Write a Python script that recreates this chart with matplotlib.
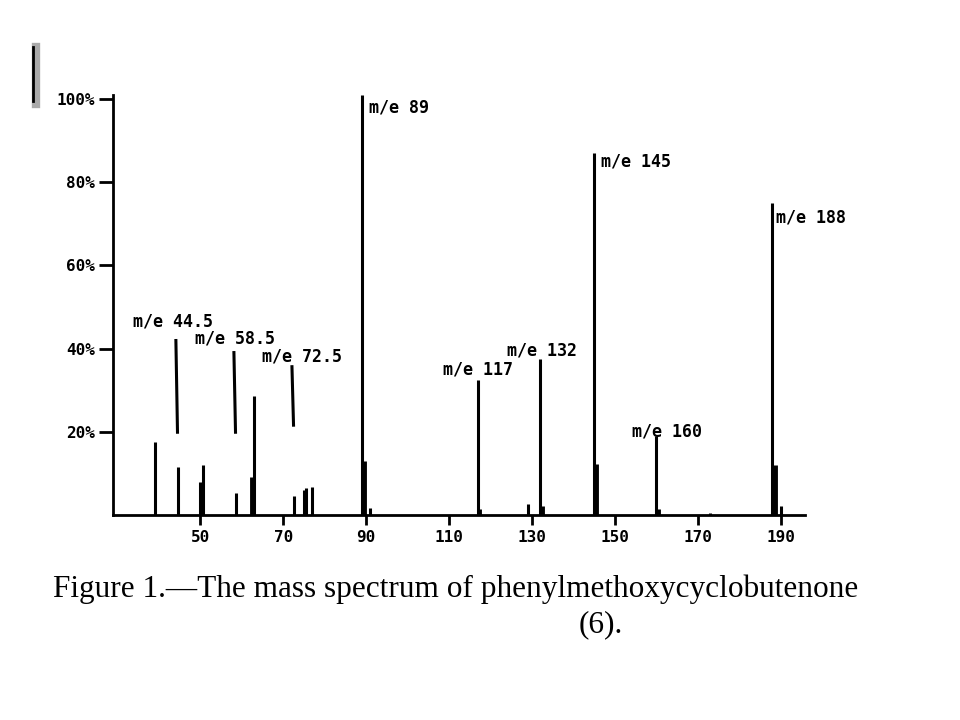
import numpy as np
import matplotlib.pyplot as plt
from matplotlib.lines import Line2D

# peaks (m/e, relative intensity %)
mz = [39, 44.5, 50, 50.7, 58.5, 63, 72.5, 75, 75.5, 77,
      89, 91, 117, 129, 132, 145, 160, 173, 188, 190]
intensity = [17.5, 11.5, 8, 12, 5.3, 28.5, 4.5, 6, 6.5, 6.7,
             101, 1.7, 32.5, 2.6, 37.5, 87, 19, 0.5, 75, 2]

# shoulder peaks drawn as thicker stubs at the base of the big lines
mz_thick = [62.5, 89.5, 117.3, 132.5, 145.4, 160.5, 188.6]
intensity_thick = [9, 13, 1.5, 2.2, 12.3, 1.5, 12]

# labelled lines: text, text x, text y, alignment
labels = ['m/e 89', 'm/e 145', 'm/e 188', 'm/e 117', 'm/e 132', 'm/e 160']
label_x = [90.8, 146.6, 188.9, 117, 132.4, 162.5]
label_y = [98, 85, 71.5, 35, 39.5, 20]
label_ha = ['left', 'left', 'left', 'center', 'center', 'center']

# labels with a pointer line (doubly charged ions)
ptr_labels = ['m/e 44.5', 'm/e 58.5', 'm/e 72.5']
ptr_x = [44.5, 58.5, 72.5]
ptr_text_x = [33.8, 48.8, 64.8]
ptr_text_y = [46.4, 42.3, 38.2]
ptr_top = [42.3, 39.4, 36]
ptr_bottom = [19.5, 19.5, 21.2]

yticks = [20, 40, 60, 80, 100]
xticks = [50, 70, 90, 110, 130, 150, 170, 190]

mono = 'DejaVu Sans Mono'

fig = plt.figure(figsize=(9.6, 7.2), dpi=100)
ax = fig.add_axes([0.118, 0.285, 0.721, 0.583])

ax.vlines(mz, 0, intensity, color='black', linewidth=2.2)
ax.vlines(mz_thick, 0, intensity_thick, color='black', linewidth=3.5)

for t, x, y, ha in zip(labels, label_x, label_y, label_ha):
    ax.text(x, y, t, ha=ha, va='center', fontsize=12, fontweight='bold',
            family=mono)

for t, x, tx, ty, top, bot in zip(ptr_labels, ptr_x, ptr_text_x, ptr_text_y,
                                  ptr_top, ptr_bottom):
    ax.text(tx, ty, t, ha='left', va='center', fontsize=12,
            fontweight='bold', family=mono)
    ax.plot([x - 0.4, x], [top, bot], color='black', linewidth=2.2,
            solid_capstyle='butt')

ax.set_xlim(29, 196)
ax.set_ylim(0, 101)

ax.spines['top'].set_visible(False)
ax.spines['right'].set_visible(False)
ax.spines['left'].set_linewidth(2)
ax.spines['bottom'].set_linewidth(2)

ax.set_yticks(yticks)
ax.set_yticklabels(['%d%%' % v for v in yticks])
ax.set_xticks(xticks)
ax.set_xticklabels([str(v) for v in xticks])
ax.tick_params(axis='y', length=10, width=2, pad=3)
ax.tick_params(axis='x', length=7, width=2, pad=4)
for lab in ax.get_xticklabels() + ax.get_yticklabels():
    lab.set_family(mono)
    lab.set_fontweight('bold')
    lab.set_fontsize(11.5)

# caption
fig.text(0.475, 0.182, 'Figure 1.\u2014The mass spectrum of phenylmethoxycyclobutenone',
         ha='center', va='center', fontsize=22.5, family='Liberation Serif')
fig.text(0.626, 0.133, '(6).', ha='center', va='center', fontsize=22.5,
         family='Liberation Serif')

# scan artefact in the top-left corner
fig.add_artist(Line2D([0.037, 0.037], [0.855, 0.935], color='#aaaaaa',
                      linewidth=6, transform=fig.transFigure))
fig.add_artist(Line2D([0.034, 0.034], [0.86, 0.935], color='black',
                      linewidth=2, transform=fig.transFigure))

plt.savefig('out.png')
